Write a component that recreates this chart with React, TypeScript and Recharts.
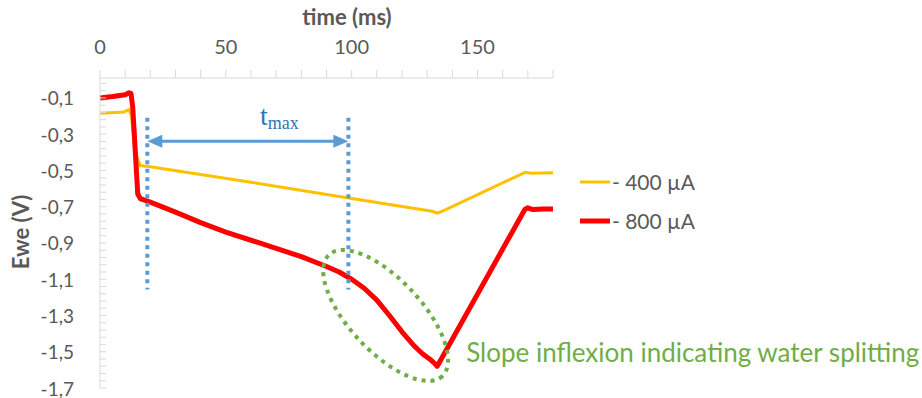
import React from 'react';
import { LineChart, Line, XAxis, YAxis, Legend, ReferenceLine, ReferenceDot, Customized } from 'recharts';

// Ewe vs time (time in ms, potential in V)
const current400 = [
  { t: 0, v: -0.185 }, { t: 9.5, v: -0.177 }, { t: 11.5, v: -0.165 }, { t: 12.5, v: -0.2 },
  { t: 14, v: -0.4 }, { t: 16, v: -0.473 }, { t: 20, v: -0.48 }, { t: 60, v: -0.565 },
  { t: 100, v: -0.655 }, { t: 132, v: -0.725 }, { t: 134, v: -0.735 }, { t: 135.5, v: -0.728 },
  { t: 169, v: -0.51 }, { t: 171.5, v: -0.516 }, { t: 180, v: -0.513 },
];

const current800 = [
  { t: 0, v: -0.1 }, { t: 5, v: -0.092 }, { t: 10, v: -0.082 }, { t: 11.5, v: -0.072 },
  { t: 12.3, v: -0.075 }, { t: 13, v: -0.15 }, { t: 15, v: -0.63 }, { t: 16, v: -0.655 },
  { t: 20, v: -0.675 }, { t: 30, v: -0.73 }, { t: 40, v: -0.788 }, { t: 50, v: -0.84 },
  { t: 60, v: -0.885 }, { t: 70, v: -0.93 }, { t: 80, v: -0.975 }, { t: 90, v: -1.03 },
  { t: 95, v: -1.06 }, { t: 100, v: -1.1 }, { t: 105, v: -1.15 }, { t: 110, v: -1.215 },
  { t: 115, v: -1.3 }, { t: 120, v: -1.39 }, { t: 125, v: -1.47 }, { t: 128, v: -1.51 },
  { t: 131.5, v: -1.546 }, { t: 133, v: -1.565 }, { t: 134, v: -1.58 },
  { t: 168.8, v: -0.715 }, { t: 170, v: -0.706 }, { t: 172, v: -0.716 }, { t: 176, v: -0.713 },
  { t: 180, v: -0.712 },
];

const xLabels = [0, 50, 100, 150];
const yLabels = [-1.7, -1.5, -1.3, -1.1, -0.9, -0.7, -0.5, -0.3, -0.1];

// minor ticks every 10 ms / 0.04 V, like the excel axis
const xTicks = Array.from({ length: 19 }, (_, i) => i * 10);
const yTicks = Array.from({ length: 43 }, (_, i) => Math.round((-1.7 + i * 0.04) * 100) / 100);

const FONT = 'Lato, "Noto Sans", sans-serif';
const AXIS = '#d9d9d9';
const TEXT = '#595959';

const XTick = (props: any) => {
  const { x, y, payload } = props;
  return (
    <g>
      <line x1={x} y1={y} x2={x} y2={y - 8} stroke={AXIS} />
      {xLabels.includes(payload.value) && (
        <text x={x} y={y - 24} textAnchor="middle" fill={TEXT} fontSize={20} fontFamily={FONT}>
          {payload.value}
        </text>
      )}
    </g>
  );
};

const YTick = (props: any) => {
  const { x, y, payload } = props;
  const isMajor = yLabels.some((l) => Math.abs(l - payload.value) < 1e-6);
  return (
    <g>
      <line x1={x} y1={y} x2={x + 6} y2={y} stroke={AXIS} />
      {isMajor && (
        <text x={x - 26} y={y} textAnchor="end" dominantBaseline="central" fill={TEXT} fontSize={19} fontFamily={FONT}>
          {payload.value.toFixed(1).replace('.', ',')}
        </text>
      )}
    </g>
  );
};

const Titles = () => (
  <g fontFamily={FONT} fill={TEXT} fontWeight="bold" fontSize={22}>
    <text x={347} y={25} textAnchor="middle">time (ms)</text>
    <text x={20} y={232} textAnchor="middle" dominantBaseline="central" transform="rotate(-90 20 232)">Ewe (V)</text>
  </g>
);

const ArrowShape = (props: any) => {
  const { x1, y1, x2 } = props;
  const c = '#5b9bd5';
  return (
    <g>
      <line x1={x1 + 12} y1={y1} x2={x2 - 12} y2={y1} stroke={c} strokeWidth={3} />
      <polygon points={`${x1},${y1} ${x1 + 15},${y1 - 6.5} ${x1 + 15},${y1 + 6.5}`} fill={c} />
      <polygon points={`${x2},${y1} ${x2 - 15},${y1 - 6.5} ${x2 - 15},${y1 + 6.5}`} fill={c} />
    </g>
  );
};

const TmaxLabel = (props: any) => (
  <text x={props.cx} y={props.cy} fill="#2e75b6" fontFamily='"Liberation Serif", serif'>
    <tspan fontSize={28}>t</tspan>
    <tspan fontSize={18} dy={4}>max</tspan>
  </text>
);

const SlopeEllipse = (props: any) => (
  <ellipse
    cx={props.cx}
    cy={props.cy}
    rx={83}
    ry={36}
    transform={`rotate(47 ${props.cx} ${props.cy})`}
    fill="none"
    stroke="#70ad47"
    strokeWidth={4}
    strokeDasharray="4 5"
  />
);

const SlopeText = (props: any) => (
  <text x={props.cx} y={props.cy} fill="#70ad47" fontSize={26} fontFamily={FONT}>
    Slope inflexion indicating water splitting
  </text>
);

const renderLegend = (props: any) => {
  const { payload } = props;
  return (
    <div style={{ fontFamily: FONT }}>
      {payload.map((entry: any) => (
        <div key={entry.value} style={{ display: 'flex', alignItems: 'center', height: 39 }}>
          <svg width={34} height={10}>
            <line x1={2} y1={5} x2={32} y2={5} stroke={entry.color} strokeWidth={entry.value.includes('800') ? 5 : 3} />
          </svg>
          <span style={{ fontSize: 21, color: TEXT, lineHeight: '21px' }}>{entry.value}</span>
        </div>
      ))}
    </div>
  );
};

export default function App() {
  return (
    <div style={{ position: 'absolute', left: 0, top: 0, width: 922, height: 398, background: '#fff' }}>
      <LineChart width={922} height={398} margin={{ top: 38, right: 369, bottom: 10, left: 40 }}>
        <XAxis
          type="number"
          dataKey="t"
          orientation="top"
          domain={[0, 180]}
          ticks={xTicks}
          interval={0}
          height={40}
          tickSize={0}
          tickMargin={0}
          tickLine={false}
          axisLine={{ stroke: AXIS }}
          tick={XTick}
        />
        <YAxis
          type="number"
          dataKey="v"
          domain={[-1.7, 0.01]}
          ticks={yTicks}
          interval={0}
          width={60}
          tickSize={0}
          tickMargin={0}
          tickLine={false}
          axisLine={{ stroke: AXIS }}
          tick={YTick}
          allowDataOverflow
        />
        <Line data={current400} dataKey="v" name="- 400 µA" type="linear" stroke="#ffc000" strokeWidth={3} dot={false} isAnimationActive={false} />
        <Line data={current800} dataKey="v" name="- 800 µA" type="linear" stroke="#ff0000" strokeWidth={5} strokeLinejoin="round" dot={false} isAnimationActive={false} />
        <ReferenceLine segment={[{ x: 18.8, y: -0.209 }, { x: 18.8, y: -1.157 }]} stroke="#5b9bd5" strokeWidth={4} strokeDasharray="4 4.5" />
        <ReferenceLine segment={[{ x: 98.7, y: -0.209 }, { x: 98.7, y: -1.157 }]} stroke="#5b9bd5" strokeWidth={4} strokeDasharray="4 4.5" />
        <ReferenceLine segment={[{ x: 18.8, y: -0.339 }, { x: 98.7, y: -0.339 }]} shape={ArrowShape} />
        <ReferenceDot x={63.6} y={-0.247} r={0} shape={TmaxLabel} />
        <ReferenceDot x={113.5} y={-1.3} r={0} shape={SlopeEllipse} />
        <ReferenceDot x={145.5} y={-1.559} r={0} shape={SlopeText} />
        <Legend
          layout="vertical"
          align="center"
          verticalAlign="middle"
          wrapperStyle={{ left: 578, top: 162, width: 200 }}
          content={renderLegend}
        />
        <Customized component={<Titles />} />
      </LineChart>
    </div>
  );
}
